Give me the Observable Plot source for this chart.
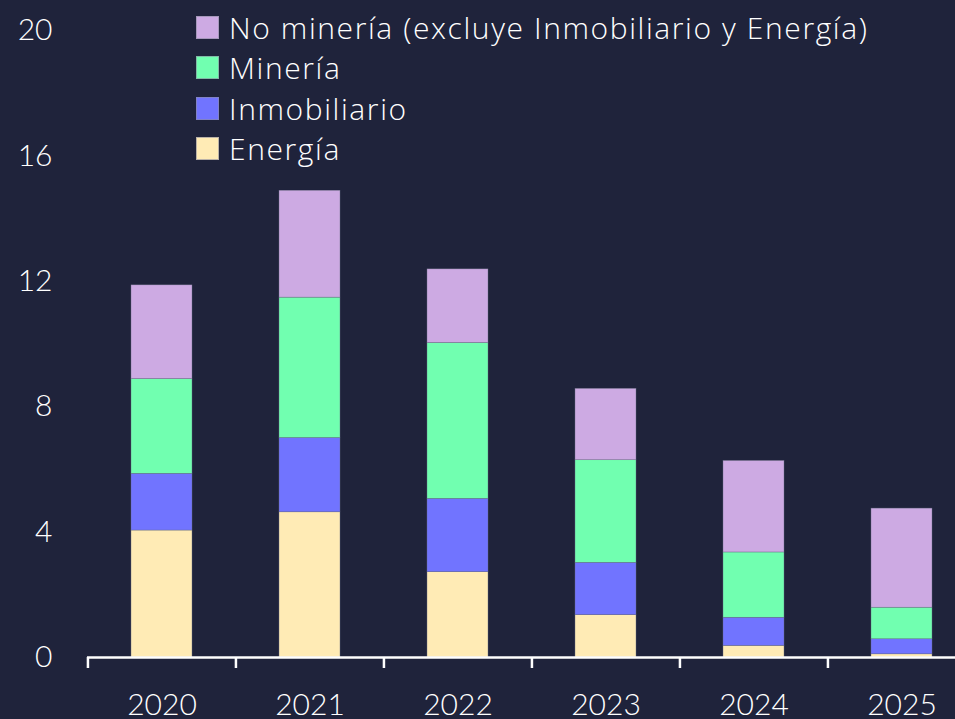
<!DOCTYPE html>
<html>
<head>
<meta charset="utf-8">
<script src="https://cdn.jsdelivr.net/npm/d3@7"></script>
<script src="https://cdn.jsdelivr.net/npm/@observablehq/plot@0.6"></script>
<style>
  html, body { margin: 0; padding: 0; background: #1f233b; overflow: hidden; }
  #wrap { position: relative; width: 955px; height: 719px; }
  #legend { position: absolute; left: 196px; top: 7.5px; font-family: "Open Sans", sans-serif; font-weight: 300; font-size: 30px; letter-spacing: 1.6px; color: #ffffff; }
  .row { display: flex; align-items: center; height: 40.3px; white-space: nowrap; }
  .sw { width: 21px; height: 21px; margin-right: 10px; border: 0.5px solid rgba(140,140,160,0.6); }
</style>
</head>
<body>
<div id="wrap"><div id="legend"></div></div>
<script>
const years = ["2020", "2021", "2022", "2023", "2024", "2025"];
const series = ["Energía", "Inmobiliario", "Minería", "No minería (excluye Inmobiliario y Energía)"];
const legendOrder = ["No minería (excluye Inmobiliario y Energía)", "Minería", "Inmobiliario", "Energía"];
const colors = ["#ffebb5", "#7174ff", "#71ffb0", "#cdaae3"];
const energia      = [4.05, 4.63, 2.72, 1.35, 0.37, 0.10];
const inmobiliario = [1.81, 2.37, 2.34, 1.67, 0.90, 0.48];
const mineria      = [3.02, 4.48, 4.97, 3.27, 2.08, 1.01];
const noMineria    = [2.99, 3.41, 2.35, 2.28, 2.92, 3.16];
const yTicks = [0, 4, 8, 12, 16, 20];

const values = [energia, inmobiliario, mineria, noMineria];
const data = [];
series.forEach((s, si) => years.forEach((yr, i) => data.push({year: yr, serie: s, value: values[si][i]})));

const bg = "#1f233b";
const xRange = [87.3, 976];
const step = (xRange[1] - xRange[0]) / years.length;

const chart = Plot.plot({
  width: 955,
  height: 719,
  marginTop: 30,
  marginBottom: 62,
  marginLeft: 87,
  marginRight: 0,
  style: {background: bg, color: "#ffffff", fontFamily: "Lato, sans-serif", fontSize: "30px", overflow: "visible"},
  x: {domain: years, range: xRange, paddingInner: 0.588, paddingOuter: 0.294, label: null},
  y: {domain: [0, 20], label: null},
  color: {domain: series, range: colors},
  marks: [
    Plot.barY(data, {x: "year", y: "value", fill: "serie", order: series, stroke: "#6b6f86", strokeWidth: 0.4}),
    Plot.ruleY([0], {stroke: "#ffffff", strokeWidth: 2.5}),
    Plot.ruleX(years, {x: d => d, y1: 0, y2: 0, insetBottom: -11, dx: -step / 2, stroke: "#ffffff", strokeWidth: 2.5}),
    Plot.axisY({ticks: yTicks, tickSize: 0, tickPadding: 35, fontSize: 30, fill: "#ffffff", fontWeight: 300}),
    Plot.axisX({tickSize: 0, tickPadding: 36, fontSize: 30, fill: "#ffffff", fontWeight: 300})
  ]
});
document.getElementById("wrap").prepend(chart);

const legend = document.getElementById("legend");
legendOrder.forEach(s => {
  const row = document.createElement("div");
  row.className = "row";
  const sw = document.createElement("div");
  sw.className = "sw";
  sw.style.background = colors[series.indexOf(s)];
  const t = document.createElement("span");
  t.textContent = s;
  row.appendChild(sw);
  row.appendChild(t);
  legend.appendChild(row);
});
</script>
</body>
</html>
